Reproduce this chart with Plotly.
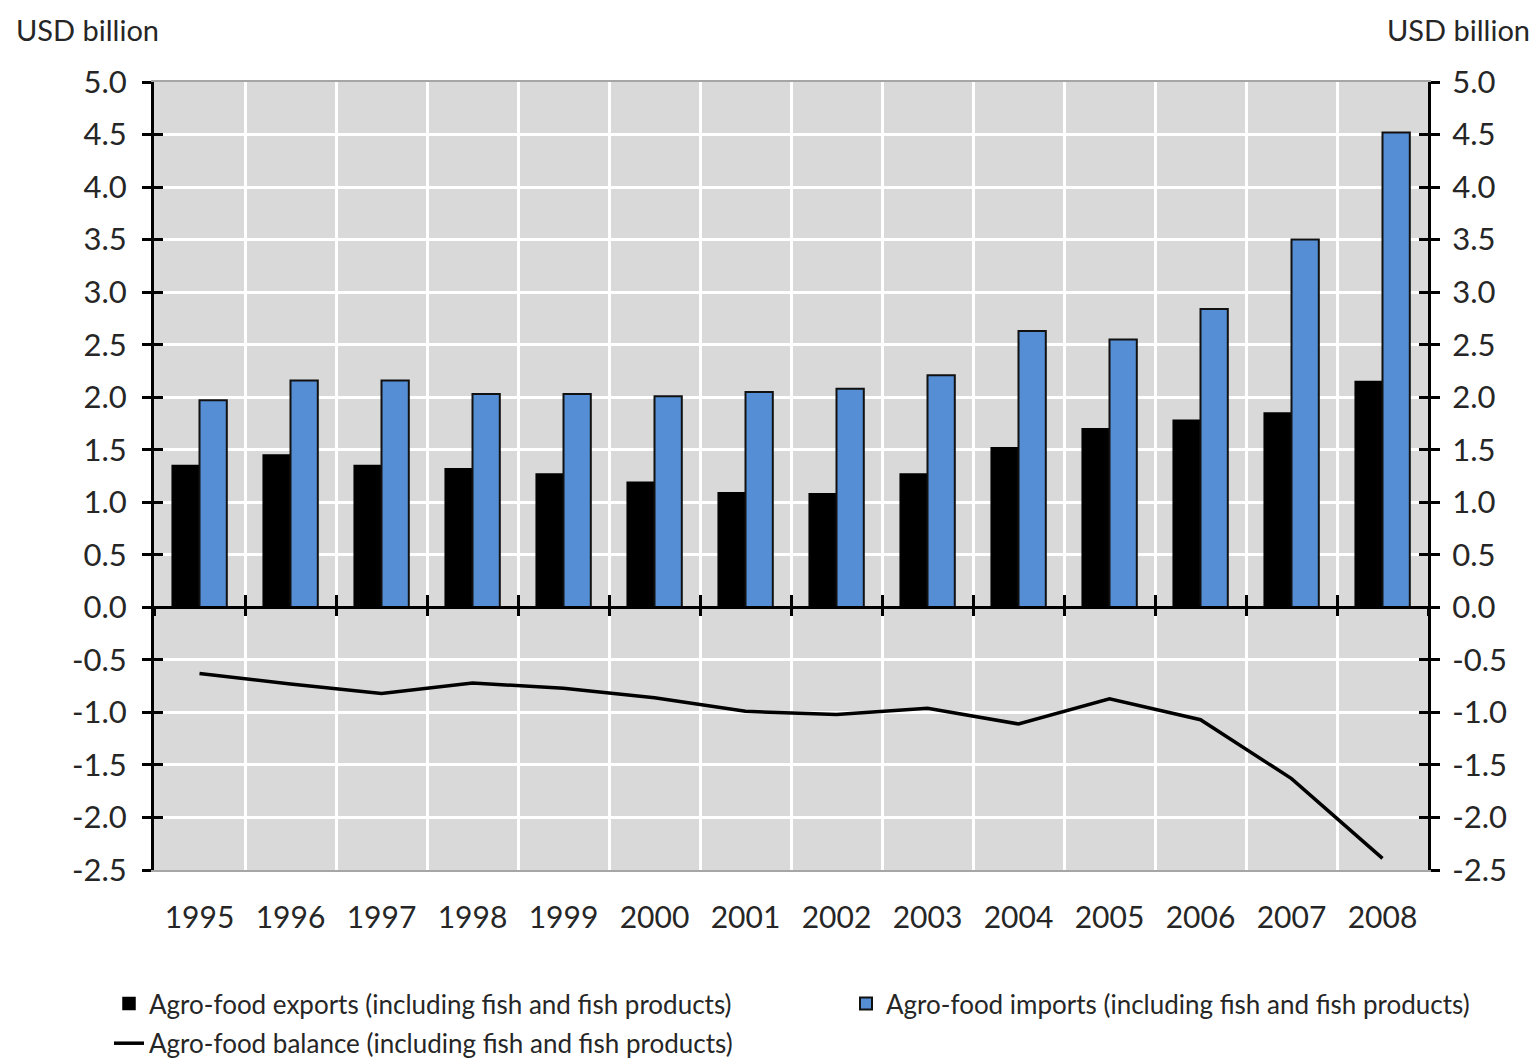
import plotly.graph_objects as go

years = ["1995", "1996", "1997", "1998", "1999", "2000", "2001",
         "2002", "2003", "2004", "2005", "2006", "2007", "2008"]
exports = [1.35, 1.45, 1.35, 1.32, 1.27, 1.19, 1.09, 1.08, 1.27, 1.52, 1.70, 1.78, 1.85, 2.15]
imports = [1.97, 2.16, 2.16, 2.03, 2.03, 2.01, 2.05, 2.08, 2.21, 2.63, 2.55, 2.84, 3.50, 4.52]
balance = [-0.63, -0.73, -0.82, -0.72, -0.77, -0.86, -0.99, -1.02, -0.96, -1.11, -0.87, -1.07, -1.63, -2.39]

names = ["Agro-food exports (including fish and fish products)",
         "Agro-food imports (including fish and fish products)",
         "Agro-food balance (including fish and fish products)"]
y_range = [-2.5, 5.0]
y_ticks = [-2.5, -2.0, -1.5, -1.0, -0.5, 0.0, 0.5, 1.0, 1.5, 2.0, 2.5, 3.0, 3.5, 4.0, 4.5, 5.0]
unit_label = "USD billion"

FONT = "Lato"
TXT = "#262626"
W, H = 1537, 1063
ML, MR, MT, MB = 154, 109, 82, 193
PW = W - ML - MR
PH = H - MT - MB

y_text = [f"{v:.1f}" for v in y_ticks]
x_range = [-0.5, len(years) - 0.5]

fig = go.Figure()
fig.add_trace(go.Bar(x=years, y=exports, name=names[0], legend="legend", legendgroup="a",
                     marker=dict(color="#000000", line=dict(color="#000000", width=1.5))))
fig.add_trace(go.Bar(x=years, y=imports, name=names[1], legend="legend2",
                     marker=dict(color="#558ED5", line=dict(color="#111111", width=2))))
fig.add_trace(go.Scatter(x=years, y=balance, name=names[2], mode="lines", legend="legend",
                         legendgroup="b", line=dict(color="#000000", width=3.5)))

# invisible helper traces so that overlay axes (tick marks that cross the axis lines) render
for xa, ya in [("x2", "y"), ("x3", "y"), ("x", "y3"), ("x", "y4"), ("x", "y2")]:
    fig.add_trace(go.Scatter(x=years, y=balance, xaxis=xa, yaxis=ya, mode="markers",
                             marker=dict(opacity=0), showlegend=False, hoverinfo="skip"))

zero_pos = (0 - y_range[0]) / (y_range[1] - y_range[0])

common_y = dict(range=y_range, tickmode="array", tickvals=y_ticks, fixedrange=True,
                automargin=False)
common_x = dict(type="category", tickson="boundaries", range=x_range, automargin=False,
                fixedrange=True)

fig.update_layout(
    width=W, height=H,
    margin=dict(l=ML, r=MR, t=MT, b=MB, autoexpand=False),
    paper_bgcolor="white", plot_bgcolor="#D9D9D9",
    barmode="group", bargap=0.40, bargroupgap=0.0,
    font=dict(family=FONT, size=30, color=TXT),
    xaxis=dict(**common_x, showgrid=True, gridcolor="white",
               gridwidth=3, ticks="", showline=True, linecolor="#A6A6A6", linewidth=2,
               mirror=True, tickfont=dict(size=30, color=TXT), ticklabelstandoff=20),
    xaxis2=dict(**common_x, overlaying="x", anchor="free",
                position=zero_pos, showgrid=False, showticklabels=False,
                showline=True, linecolor="#000000", linewidth=3,
                ticks="inside", ticklen=11, tickwidth=3, tickcolor="#000000"),
    xaxis3=dict(**common_x, overlaying="x", anchor="free",
                position=zero_pos, showgrid=False, showticklabels=False,
                showline=False, ticks="outside", ticklen=8, tickwidth=3, tickcolor="#000000"),
    yaxis=dict(**common_y, ticktext=y_text, showgrid=True, gridcolor="white", gridwidth=3,
               zeroline=False, showline=True, linecolor="#000000", linewidth=3,
               ticks="outside", ticklen=9, tickwidth=3, tickcolor="#000000",
               ticklabelstandoff=9, tickfont=dict(size=31, color=TXT)),
    yaxis2=dict(**common_y, ticktext=y_text, overlaying="y", side="right", anchor="x",
                showgrid=False, zeroline=False, showline=True, linecolor="#000000",
                linewidth=3, ticks="outside", ticklen=9, tickwidth=3, tickcolor="#000000",
                ticklabelstandoff=6, tickfont=dict(size=31, color=TXT)),
    yaxis3=dict(**common_y, overlaying="y", side="left", anchor="x", showgrid=False,
                zeroline=False, showticklabels=False, showline=False,
                ticks="inside", ticklen=9, tickwidth=3, tickcolor="#000000"),
    yaxis4=dict(**common_y, overlaying="y", side="right", anchor="x", showgrid=False,
                zeroline=False, showticklabels=False, showline=False,
                ticks="inside", ticklen=9, tickwidth=3, tickcolor="#000000"),
    legend=dict(orientation="v", xref="container", yref="container",
                x=109 / W, xanchor="left", y=1 - 980 / H, yanchor="top",
                traceorder="grouped", font=dict(size=26, color=TXT), tracegroupgap=3,
                bgcolor="rgba(0,0,0,0)"),
    legend2=dict(orientation="v", xref="container", yref="container",
                 x=846 / W, xanchor="left", y=1 - 980 / H, yanchor="top",
                 font=dict(size=26, color=TXT), bgcolor="rgba(0,0,0,0)"),
    showlegend=True,
    annotations=[
        dict(text=unit_label, xref="paper", yref="paper", x=(14 - ML) / PW,
             y=1 + (MT - 30) / PH, xanchor="left", yanchor="middle", showarrow=False,
             font=dict(size=29, color=TXT)),
        dict(text=unit_label, xref="paper", yref="paper", x=(1532 - ML) / PW,
             y=1 + (MT - 30) / PH, xanchor="right", yanchor="middle", showarrow=False,
             font=dict(size=29, color=TXT)),
    ],
)

fig.write_html("out.html", config={"displayModeBar": False},
               post_script="document.body.style.margin='0px';")
